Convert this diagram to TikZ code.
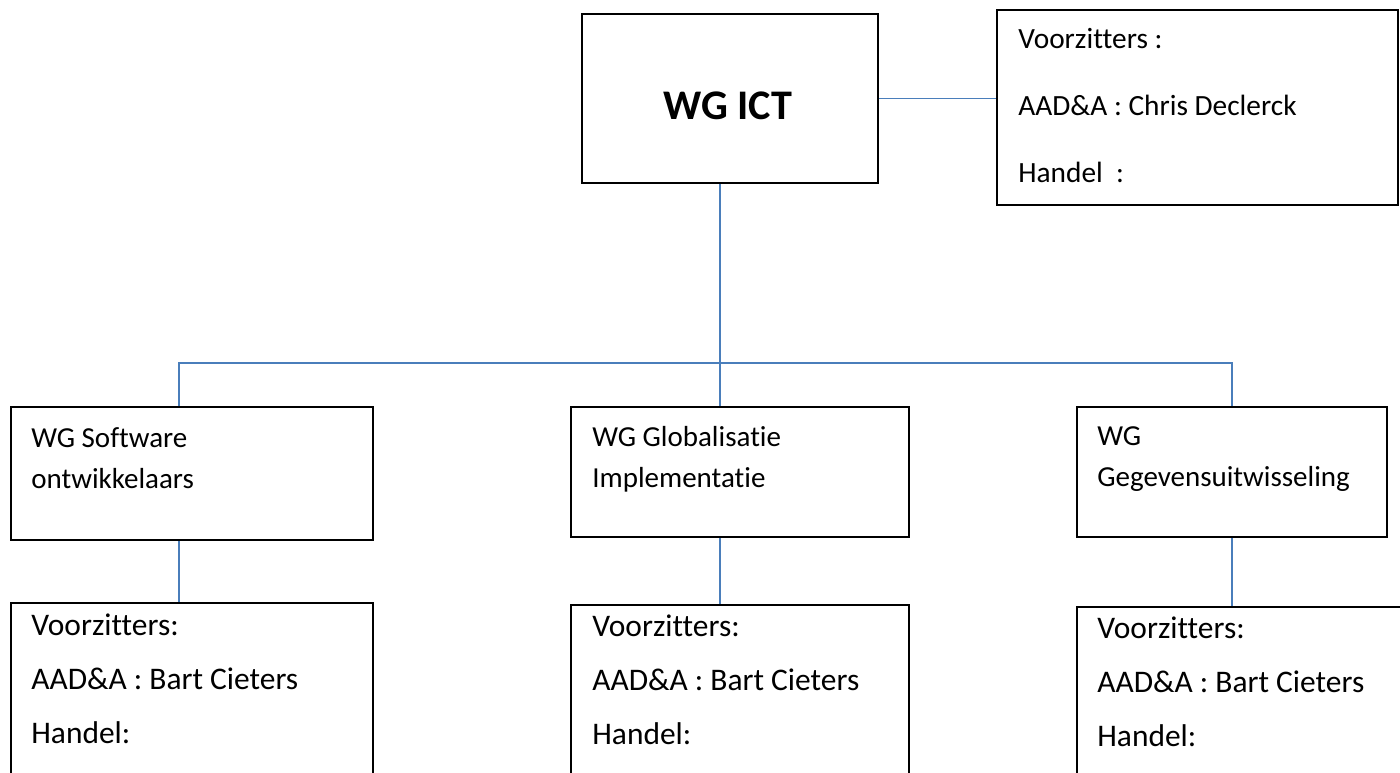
\documentclass[tikz,border=0pt]{standalone}
\usepackage{fontspec}
\setmainfont[Ligatures=NoCommon]{Carlito}
\usepackage{xcolor}
\usepackage{tikz}
\usetikzlibrary{fit}
\definecolor{linkblue}{HTML}{4A7EBB}

\begin{document}
\begin{tikzpicture}
    [x=0.02cm,y=-0.02cm,
    box/.style={draw=black,line width=1.1pt,inner sep=0pt},
    link/.style={draw=linkblue,line width=0.8pt},
    label/.style={anchor=base west,align=left,inner sep=0pt},
    toptext/.style={font=\fontsize{16.7}{38.3}\selectfont},
    midtext/.style={font=\fontsize{16.5}{23.2}\selectfont},
    lowtext/.style={font=\fontsize{17.9}{30.6}\selectfont}]

    \useasboundingbox (0,0) rectangle (1400,773);

    \node (ict) [box,fit={(582,14) (878,183)}] {};
    \node (chair) [box,fit={(997,10) (1398,205)}] {};
    \node (sw) [box,fit={(11,407) (373,540)}] {};
    \node (glob) [box,fit={(571,407) (909,537)}] {};
    \node (data) [box,fit={(1077,407) (1387,537)}] {};
    \node (swlow) [box,fit={(11,603) (373,790)}] {};
    \node (globlow) [box,fit={(571,605) (909,790)}] {};
    \node (datalow) [box,fit={(1077,607) (1420,790)}] {};

    % text sits on the baseline of its last line
    \node (icttext) [anchor=base,inner sep=0pt,font=\fontsize{24}{28}\selectfont\bfseries] at (728,120) {WG ICT};
    \node (chairtext) [label,toptext] at (1018,183) {Voorzitters :\\AAD\&A : Chris Declerck\\Handel \ :};
    \node (swtext) [label,midtext] at (31,488) {WG Software\\ontwikkelaars};
    \node (globtext) [label,midtext] at (592,487) {WG Globalisatie\\Implementatie};
    \node (datatext) [label,midtext] at (1097,486) {WG\\Gegevensuitwisseling};
    \node (swlowtext) [label,lowtext] at (31,743) {Voorzitters:\\AAD\&A : Bart Cieters\\Handel:};
    \node (globlowtext) [label,lowtext] at (592,744) {Voorzitters:\\AAD\&A : Bart Cieters\\Handel:};
    \node (datalowtext) [label,lowtext] at (1097,746) {Voorzitters:\\AAD\&A : Bart Cieters\\Handel:};

    \coordinate (busA) at (179,363);
    \coordinate (busB) at (720,363);
    \coordinate (busC) at (1232,363);

    \draw [link] (ict.east) -- (ict.east -| chair.west);
    \draw [link] (busB |- ict.south) -- (busB |- glob.north);
    \draw [link] (busA |- sw.north) -- (busA) -- (busC) -- (busC |- data.north);
    \draw [link] (busA |- sw.south) -- (busA |- swlow.north);
    \draw [link] (busB |- glob.south) -- (busB |- globlow.north);
    \draw [link] (busC |- data.south) -- (busC |- datalow.north);
\end{tikzpicture}
\end{document}
